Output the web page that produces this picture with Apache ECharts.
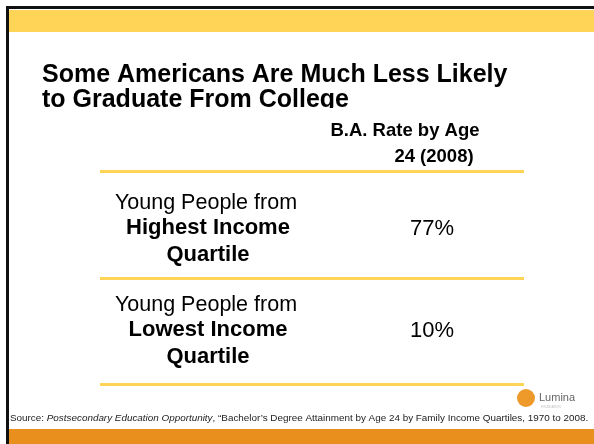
<!DOCTYPE html>
<html>
<head>
<meta charset="utf-8">
<script src="https://cdn.jsdelivr.net/npm/echarts@6/dist/echarts.min.js"></script>
<style>
  html, body { margin: 0; padding: 0; background: #fff; }
  #chart { width: 594px; height: 444px; }
</style>
</head>
<body>
<div id="chart"></div>
<script>
// Table content
const titleLines = ['Some Americans Are Much Less Likely', 'to Graduate From College'];
const headerLines = ['B.A. Rate by Age', '24 (2008)'];
const rowPrefix = ['Young People from', 'Young People from'];
const rowGroups = [['Highest Income', 'Quartile'], ['Lowest Income', 'Quartile']];
const rates = [77, 10];
const sourceItalic = 'Postsecondary Education Opportunity';
const sourceRest = ', \u201cBachelor\u2019s Degree Attainment by Age 24 by Family Income Quartiles, 1970 to 2008.';

const FONT = '"Liberation Sans", Arial, sans-serif';
const YELLOW = '#FFD457';
const ORANGE = '#E98F1D';

const chart = echarts.init(document.getElementById('chart'), null, { renderer: 'canvas' });

const g = [];
// slide frame
g.push({ type: 'rect', shape: { x: 6, y: 6, width: 600, height: 500 }, style: { fill: '#111' }, silent: true });
g.push({ type: 'rect', shape: { x: 9, y: 9, width: 600, height: 500 }, style: { fill: '#fff' }, silent: true });
g.push({ type: 'rect', shape: { x: 9, y: 10, width: 600, height: 22 }, style: { fill: YELLOW }, silent: true });
g.push({ type: 'rect', shape: { x: 9, y: 429, width: 600, height: 20 }, style: { fill: ORANGE }, silent: true });

// title
titleLines.forEach((t, i) => {
  g.push({ type: 'text', x: 42, y: 75 + i * 25, style: {
    text: t, font: 'bold 25px ' + FONT, fill: '#000', textVerticalAlign: 'middle' } });
});
// title box clips the descenders of the second line
g.push({ type: 'rect', shape: { x: 38, y: 108, width: 360, height: 10 }, style: { fill: '#fff' }, silent: true });

// header
const headerX = [405, 434];
headerLines.forEach((t, i) => {
  g.push({ type: 'text', x: headerX[i], y: 131 + i * 26, style: {
    text: t, font: 'bold 18.5px ' + FONT, fill: '#000', textAlign: 'center', textVerticalAlign: 'middle' } });
});

// table rules
const ruleY = [172, 279, 385];
ruleY.forEach(y => {
  g.push({ type: 'rect', shape: { x: 100, y: y - 2, width: 424, height: 3 }, style: { fill: YELLOW }, silent: true });
});

// rows
const rowTop = [203, 305];
rates.forEach((v, i) => {
  const y0 = rowTop[i];
  g.push({ type: 'text', x: 206, y: y0, style: {
    text: rowPrefix[i], font: '21.5px ' + FONT, fill: '#000', textAlign: 'center', textVerticalAlign: 'middle' } });
  rowGroups[i].forEach((t, j) => {
    g.push({ type: 'text', x: 208, y: y0 + 25 + j * 27, style: {
      text: t, font: 'bold 22px ' + FONT, fill: '#000', textAlign: 'center', textVerticalAlign: 'middle' } });
  });
  g.push({ type: 'text', x: 432, y: y0 + 26, style: {
    text: v + '%', font: '22px ' + FONT, fill: '#000', textAlign: 'center', textVerticalAlign: 'middle' } });
});

// source line
g.push({ type: 'text', x: 10, y: 418, style: {
  text: '{r|Source: }{i|' + sourceItalic + '}{r|' + sourceRest + '}',
  textVerticalAlign: 'middle',
  rich: {
    r: { font: '9.9px ' + FONT, fill: '#222' },
    i: { font: 'italic 9.9px ' + FONT, fill: '#222' }
  } } });

// logo
g.push({ type: 'circle', shape: { cx: 526, cy: 398, r: 9 }, style: { fill: '#EE9A2A' }, silent: true });
g.push({ type: 'text', x: 539, y: 398, style: {
  text: 'Lumina', font: '11px ' + FONT, fill: '#666', textVerticalAlign: 'middle' } });
g.push({ type: 'text', x: 541, y: 407, style: {
  text: 'FOUNDATION', font: '3px ' + FONT, fill: '#bbb', textVerticalAlign: 'middle' } });

chart.setOption({
  animation: false,
  backgroundColor: '#fff',
  graphic: { elements: g }
});
</script>
</body>
</html>
